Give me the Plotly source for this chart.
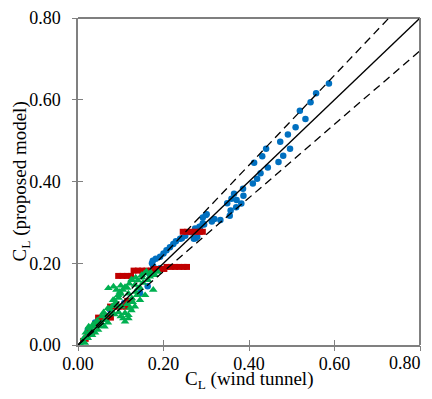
import plotly.graph_objects as go

# ---- data (C_L wind tunnel, C_L proposed model) ----
blue_x = [0.587, 0.557, 0.544, 0.519, 0.532, 0.509, 0.491, 0.473, 0.440, 0.496,
          0.431, 0.480, 0.412, 0.469, 0.444, 0.427, 0.419, 0.409, 0.386, 0.365,
          0.359, 0.349, 0.371, 0.387, 0.382, 0.370, 0.357, 0.355, 0.333, 0.319,
          0.313, 0.301, 0.292, 0.295, 0.286, 0.275, 0.243, 0.299, 0.292, 0.284,
          0.274, 0.264, 0.279, 0.271, 0.251, 0.239, 0.229, 0.223, 0.215, 0.207,
          0.200, 0.192, 0.182, 0.175, 0.173, 0.176, 0.167, 0.108, 0.163, 0.040,
          0.145, 0.075, 0.051, 0.023, 0.192]
blue_y = [0.640, 0.616, 0.594, 0.573, 0.553, 0.533, 0.515, 0.497, 0.480, 0.480,
          0.462, 0.463, 0.446, 0.448, 0.434, 0.420, 0.407, 0.395, 0.382, 0.370,
          0.358, 0.347, 0.355, 0.365, 0.346, 0.337, 0.329, 0.316, 0.306, 0.308,
          0.302, 0.320, 0.312, 0.295, 0.289, 0.261, 0.261, 0.318, 0.298, 0.289,
          0.285, 0.276, 0.265, 0.260, 0.267, 0.260, 0.254, 0.247, 0.239, 0.232,
          0.224, 0.216, 0.211, 0.206, 0.200, 0.192, 0.175, 0.103, 0.144, 0.055,
          0.127, 0.086, 0.066, 0.037, 0.188]

red_x = [0.245, 0.255, 0.265, 0.275, 0.285, 0.292,
         0.207, 0.217, 0.227, 0.237, 0.247, 0.255,
         0.130, 0.140, 0.150, 0.160, 0.170,
         0.178, 0.186, 0.194, 0.202,
         0.094, 0.104, 0.114, 0.124,
         0.115, 0.125,
         0.075, 0.085, 0.095, 0.105, 0.112,
         0.047, 0.057, 0.067, 0.077,
         0.040, 0.048,
         0.025, 0.033,
         0.012, 0.018, 0.022]
red_y = [0.277, 0.277, 0.277, 0.277, 0.277, 0.277,
         0.191, 0.191, 0.191, 0.191, 0.191, 0.191,
         0.182, 0.182, 0.182, 0.182, 0.182,
         0.186, 0.186, 0.186, 0.186,
         0.169, 0.169, 0.169, 0.169,
         0.108, 0.108,
         0.094, 0.094, 0.094, 0.094, 0.094,
         0.067, 0.067, 0.067, 0.067,
         0.050, 0.050,
         0.030, 0.030,
         0.010, 0.015, 0.020]

green_x = [0.071, 0.083, 0.098, 0.118, 0.141, 0.157, 0.126, 0.133, 0.118, 0.106,
           0.149, 0.168, 0.180, 0.164, 0.152, 0.133, 0.110, 0.094, 0.082, 0.145,
           0.138, 0.176, 0.087, 0.102, 0.110, 0.110, 0.118, 0.079, 0.063, 0.055,
           0.040, 0.028, 0.020, 0.012, 0.007, 0.033, 0.047, 0.023, 0.016, 0.051,
           0.063, 0.075, 0.091, 0.044, 0.037, 0.014, 0.026, 0.122, 0.126, 0.159,
           0.187,
           0.030, 0.035, 0.045, 0.055, 0.060, 0.070, 0.080, 0.085, 0.095, 0.100,
           0.105, 0.115, 0.120, 0.125, 0.135, 0.140, 0.150, 0.155, 0.160, 0.170,
           0.100, 0.090, 0.115, 0.125, 0.128, 0.135, 0.145, 0.062, 0.070, 0.085,
           0.095, 0.100, 0.030, 0.040, 0.018, 0.025]
green_y = [0.139, 0.143, 0.130, 0.126, 0.139, 0.122, 0.114, 0.094, 0.073, 0.065,
           0.171, 0.167, 0.171, 0.159, 0.152, 0.147, 0.142, 0.122, 0.110, 0.110,
           0.122, 0.135, 0.102, 0.094, 0.078, 0.057, 0.065, 0.078, 0.061, 0.053,
           0.045, 0.033, 0.020, 0.008, 0.000, 0.024, 0.037, 0.017, 0.005, 0.046,
           0.071, 0.088, 0.098, 0.056, 0.032, 0.017, 0.042, 0.091, 0.159, 0.176,
           0.179,
           0.040, 0.050, 0.060, 0.070, 0.080, 0.090, 0.095, 0.110, 0.115, 0.125,
           0.135, 0.140, 0.150, 0.160, 0.165, 0.158, 0.165, 0.175, 0.180, 0.178,
           0.145, 0.135, 0.100, 0.085, 0.105, 0.130, 0.140, 0.045, 0.055, 0.075,
           0.080, 0.070, 0.025, 0.030, 0.030, 0.045]

ratios = [1.1, 1.0, 0.9]          # reference lines y = k * x
ratio_dash = ["8px,5px", "solid", "8px,5px"]
axis_max = 0.8
tick_vals = [0.0, 0.2, 0.4, 0.6, 0.8]
tick_text = ["%.2f" % v for v in tick_vals]
# last x label is drawn as an annotation, nudged left so it stays inside the page
x_tick_text = tick_text[:-1] + [""]

FONT = "Liberation Serif"
GRAY = "#808080"

fig = go.Figure()
fig.add_trace(go.Scatter(x=blue_x, y=blue_y, mode="markers",
                         marker=dict(symbol="circle", size=6.5, color="#0070C0"),
                         showlegend=False))
fig.add_trace(go.Scatter(x=red_x, y=red_y, mode="markers",
                         marker=dict(symbol="square", size=6, color="#C00000"),
                         showlegend=False))
fig.add_trace(go.Scatter(x=green_x, y=green_y, mode="markers",
                         marker=dict(symbol="triangle-up", size=7.5, color="#00B050"),
                         showlegend=False))

for k, d in zip(ratios, ratio_dash):
    xe = min(axis_max, axis_max / k)
    fig.add_trace(go.Scatter(x=[0, xe], y=[0, k * xe], mode="lines",
                             line=dict(color="black", width=1.3, dash=d),
                             showlegend=False, hoverinfo="skip"))

# main axes carry the labels and the inner half of the crossing tick marks
axis_common = dict(range=[0, axis_max], tickvals=tick_vals,
                   showgrid=False, zeroline=False, showline=True, automargin=False,
                   linecolor=GRAY, ticks="inside", ticklen=5, tickcolor=GRAY,
                   tickwidth=1, ticklabeloverflow="allow",
                   tickfont=dict(family=FONT, size=18, color="black"))
# overlay axes carry the outer half of the tick marks
overlay_common = dict(range=[0, axis_max], tickvals=tick_vals, ticks="outside",
                      ticklen=5, tickcolor=GRAY, showticklabels=False,
                      showgrid=False, zeroline=False, showline=False,
                      automargin=False)

# page body has an 8px margin on every side: size the figure so the page does not
# overflow the 432x399 window and the plot lands where the reference has it
fig.update_layout(
    width=416, height=383,
    margin=dict(l=70, r=4, t=10, b=46),
    plot_bgcolor="white", paper_bgcolor="white",
    xaxis=dict(**axis_common, ticktext=x_tick_text, linewidth=2, ticklabelstandoff=1),
    yaxis=dict(**axis_common, ticktext=tick_text, linewidth=1.5, ticklabelstandoff=12),
    xaxis2=dict(**overlay_common, overlaying="x", anchor="y", side="bottom"),
    yaxis2=dict(**overlay_common, overlaying="y", anchor="x", side="left"),
    shapes=[
        dict(type="line", xref="paper", yref="paper", x0=0, x1=1, y0=1, y1=1,
             line=dict(color="black", width=1.2)),
        dict(type="line", xref="paper", yref="paper", x0=1, x1=1, y0=0, y1=1,
             line=dict(color=GRAY, width=2)),
    ],
    annotations=[
        dict(text=tick_text[-1], xref="x", yref="paper", x=tick_vals[-1], y=0,
             xanchor="right", yanchor="middle", xshift=3, yshift=-18,
             showarrow=False, font=dict(family=FONT, size=18, color="black")),
        dict(text="C<sub>L</sub> (wind tunnel)", xref="paper", yref="paper",
             x=0.5, y=-0.064, xanchor="center", yanchor="top", showarrow=False,
             font=dict(family=FONT, size=19, color="black")),
        dict(text="C<sub>L</sub> (proposed model)", xref="paper", yref="paper",
             x=-0.126, y=0.5, xanchor="right", yanchor="middle", showarrow=False,
             textangle=-90, font=dict(family=FONT, size=19, color="black")),
    ],
)
fig.add_trace(go.Scatter(x=[None], y=[None], xaxis="x2", yaxis="y2",
                         showlegend=False, hoverinfo="skip"))

fig.write_html("out.html")
